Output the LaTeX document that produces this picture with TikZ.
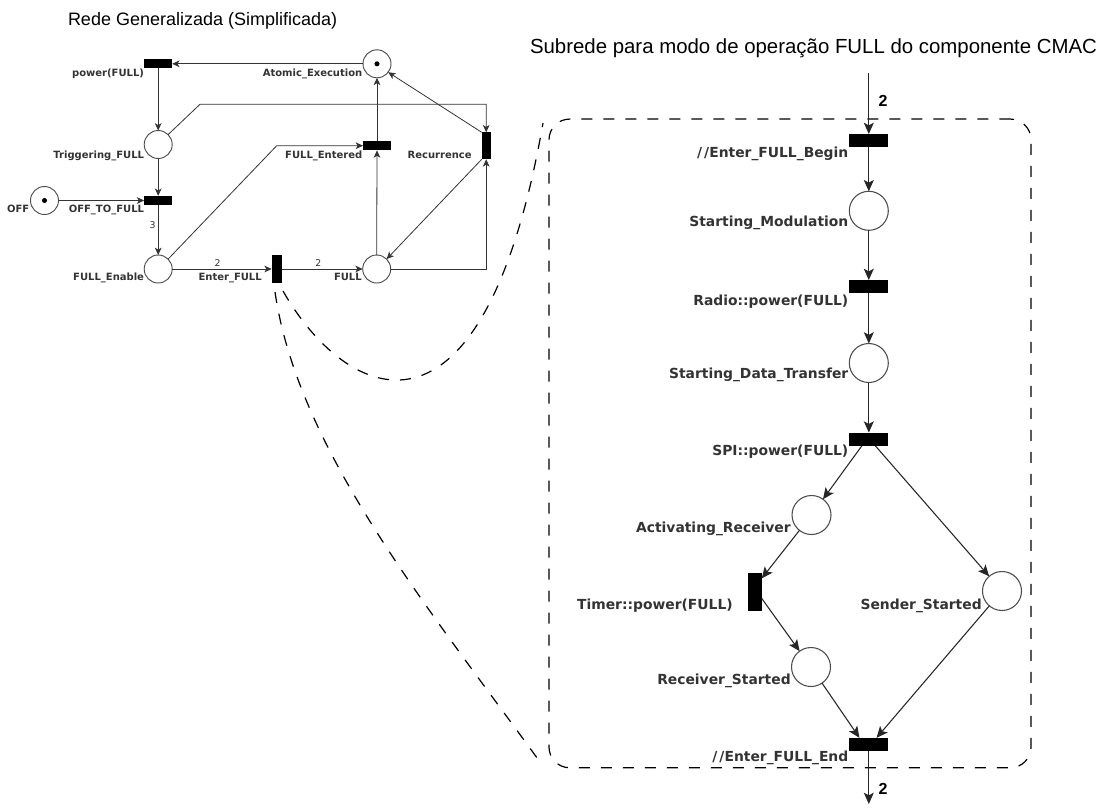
\documentclass[tikz,border=0pt]{standalone}
\usepackage{fontspec}
\setmainfont{Liberation Sans}
\newfontfamily\netfont{DejaVu Sans}
\usetikzlibrary{arrows.meta}
\begin{document}
\begin{tikzpicture}[x=0.75pt,y=-0.75pt,
  every node/.style={inner sep=0pt, outer sep=0pt},
  placeS/.style={circle, draw=black!70, line width=0.7pt, minimum size=21pt, fill=white},
  placeL/.style={circle, draw=black!70, line width=0.8pt, minimum size=29.25pt, fill=white},
  transS/.style={rectangle, fill=black, minimum width=21pt, minimum height=7pt},
  transR/.style={rectangle, fill=black, minimum width=29.25pt, minimum height=10pt},
  token/.style={circle, fill=black, minimum size=3.8pt},
  labS/.style={anchor=base east, font=\netfont\bfseries\fontsize{7.5}{9}\selectfont, text=black!80},
  labL/.style={anchor=base east, font=\netfont\bfseries\fontsize{10.4}{12}\selectfont, text=black!80},
  arclab/.style={font=\netfont\fontsize{7}{8}\selectfont, text=black!80},
  boldlab/.style={font=\bfseries\fontsize{12}{14}\selectfont},
  arcS/.style={draw=black!80, line width=0.6pt, -{Stealth[length=5.5pt,width=5pt,inset=1.5pt]}},
  arcL/.style={draw=black!85, line width=0.8pt, -{Stealth[length=8.5pt,width=7.5pt,inset=2pt]}},
  zoomline/.style={draw=black, line width=0.9pt, dash pattern=on 8.25pt off 8.25pt}
]
\useasboundingbox (0,0) rectangle (1105,811);

% titles
\node[anchor=base west, font=\fontsize{13.5}{15}\selectfont] (t1) at (68,25) {Rede Generalizada (Simplificada)};
\node[anchor=base west, font=\fontsize{15.3}{18}\selectfont] (t2) at (530,53) {Subrede para modo de operação FULL do componente CMAC};

% ---------- left net ----------
\node[transS] (pw) at (158.2,63.8) {};
\node[placeS] (ae) at (377,63.8) {};
\node[token] (aetok) at (377,63.8) {};
\node[placeS] (tf) at (158.2,144.5) {};
\node[transS] (fen) at (377,145.7) {};
\node[rectangle, fill=black, minimum width=6.75pt, minimum height=20.25pt] (rec) at (486.2,145.8) {};
\node[placeS] (off) at (44.5,200.5) {};
\node[token] (offtok) at (44.5,200.5) {};
\node[transS] (ott) at (158.2,200.5) {};
\node[placeS] (fe) at (158.2,269) {};
\node[rectangle, fill=black, minimum width=7.5pt, minimum height=21pt] (ef) at (276.7,269) {};
\node[placeS] (full) at (376.7,269) {};

\node[labS] (lpw) at (144,76) {power(FULL)};
\node[labS] (lae) at (362.3,76) {Atomic\_Execution};
\node[labS] (ltf) at (144,158.3) {Triggering\_FULL};
\node[labS] (lfen) at (362.3,158.3) {FULL\_Entered};
\node[labS] (lrec) at (471.7,158.3) {Recurrence};
\node[labS] (loff) at (29.3,212.3) {OFF};
\node[labS] (lott) at (144,212.3) {OFF\_TO\_FULL};
\node[labS] (lfe) at (144,280.7) {FULL\_Enable};
\node[labS] (lef) at (261.7,280.7) {Enter\_FULL};
\node[labS] (lfull) at (361.7,280.7) {FULL};

\coordinate (c1) at (200,104.3);
\coordinate (c2) at (276.7,145.7);
\draw[arcS] (ae.west) -- (pw.east);
\draw[arcS] (pw.south) -- (tf.north);
\draw[arcS] (tf.45) -- (c1) -| (rec.north);
\draw[arcS] (tf.south) -- (ott.north);
\draw[arcS] (off.east) -- (ott.west);
\draw[arcS] (ott.south) -- (fe.north);
\node[arclab] (w3) at (152.7,225) {3};
\draw[arcS] (fe.45) -- (c2) -- (fen.west);
\draw[arcS] (fe.east) -- (ef.west);
\node[arclab] (w2a) at (217.7,263) {2};
\draw[arcS] (ef.east) -- (full.west);
\node[arclab] (w2b) at (318.3,263) {2};
\draw[arcS] (full.north) -- (fen.south);
\draw[arcS] (fen.north) -- (ae.south);
\draw[arcS] (full.east) -| (rec.south);
\draw[arcS] (rec.south west) -- (full.45);
\draw[arcS] (rec.north west) -- (ae.-37);

% ---------- right net ----------
\node[draw=black, line width=0.9pt, dash pattern=on 8.25pt off 8.25pt, rounded corners=15.5pt,
      minimum width=361.5pt, minimum height=486.5pt] (box) at (790,443.4) {};

\node[transR] (beg) at (868.8,140.7) {};
\node[placeL] (sm) at (868.8,210.8) {};
\node[transR] (rp) at (868.8,286.7) {};
\node[placeL] (sdt) at (868.8,363) {};
\node[transR] (spi) at (868.8,439.3) {};
\node[placeL] (ar) at (811.5,515) {};
\node[placeL] (ss) at (1002,591) {};
\node[rectangle, fill=black, minimum width=10.5pt, minimum height=28.7pt] (tm) at (754.7,591.8) {};
\node[placeL] (rs) at (811,667) {};
\node[transR] (en) at (868.8,744.5) {};

\node[labL] (lbeg) at (848.3,157.7) {/\kern1.5pt/Enter\_FULL\_Begin};
\node[labL] (lsm) at (848.3,226.7) {Starting\_Modulation};
\node[labL] (lrp) at (848.3,305) {Radio::power(FULL)};
\node[labL] (lsdt) at (848.3,378) {Starting\_Data\_Transfer};
\node[labL] (lspi) at (848.3,455) {SPI::power(FULL)};
\node[labL] (lar) at (790.7,532.7) {Activating\_Receiver};
\node[labL] (ltm) at (732.7,609.3) {Timer::power(FULL)};
\node[labL] (lss) at (981.7,609.3) {Sender\_Started};
\node[labL] (lrs) at (790.7,684) {Receiver\_Started};
\node[labL] (len) at (848.3,761) {/\kern1.5pt/Enter\_FULL\_End};

\coordinate (in1) at (868.8,73);
\coordinate (out1) at (868.8,804);
\draw[arcL] (in1) -- (beg.north);
\node[boldlab] (win) at (883,101) {2};
\draw[arcL] (beg.south) -- (sm.north);
\draw[arcL] (sm.south) -- (rp.north);
\draw[arcL] (rp.south) -- (sdt.north);
\draw[arcL] (sdt.south) -- (spi.north);
\draw[arcL] ([xshift=-5.3pt]spi.south) -- (ar);
\draw[arcL] ([xshift=5pt]spi.south) -- (ss);
\draw[arcL] (ar) -- ([yshift=-4.3pt]tm.north east);
\draw[arcL] ([yshift=-19.3pt]tm.north east) -- (rs);
\draw[arcL] (rs) -- ([xshift=-7pt]en.north);
\draw[arcL] (ss) -- ([xshift=5.8pt]en.north);
\draw[arcL] (en.south) -- (out1);
\node[boldlab] (wout) at (883,789) {2};

% ---------- zoom curves ----------
\coordinate (za0) at (283,291);
\coordinate (zb0) at (275,292);
\draw[zoomline] (za0) .. controls (345,400) and (482,470) .. ([xshift=-4.5pt,yshift=-3pt]box.north west);
\draw[zoomline] (zb0) .. controls (298,450) and (430,610) .. ([xshift=-6.75pt,yshift=4.3pt]box.south west);
\end{tikzpicture}
\end{document}
